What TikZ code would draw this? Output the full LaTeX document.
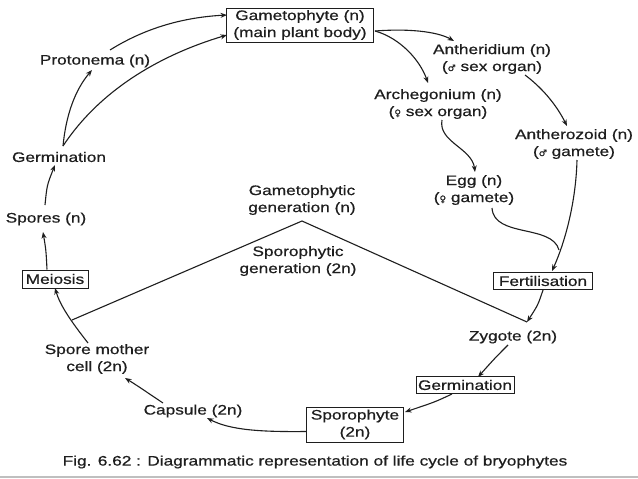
\documentclass[tikz,border=0pt]{standalone}
\usepackage{fontspec}
\setmainfont[FakeStretch=1.25,FakeBold=0.6]{Liberation Sans}
\newfontfamily\symf[FakeBold=0.6]{DejaVu Sans}
\usetikzlibrary{arrows.meta}
\definecolor{ink}{HTML}{1E1E1E}
\tikzset{
  txt/.style={align=center,inner sep=1pt,text=ink,font=\fontsize{13.8}{17}\selectfont},
  boxed/.style={txt,draw=ink,line width=1pt,inner sep=2pt},
  arr/.style={draw=ink,line width=1.1pt,-{Stealth[length=6.5pt,width=5pt]}},
  ln/.style={draw=ink,line width=1.1pt}
}
\newcommand{\ms}{{\symf\fontsize{9}{9}\selectfont ♂}}
\newcommand{\fs}{{\symf\fontsize{9}{9}\selectfont ♀}}
\begin{document}
\begin{tikzpicture}[x=1pt,y=-1pt]
\useasboundingbox (0,0) rectangle (638,479);
\fill[white] (0,0) rectangle (638,479);
\draw[black!25,line width=1.5pt] (0,477) -- (638,477);
% nodes
\node[boxed,minimum width=147pt,minimum height=34pt] (gam) at (300,25) {Gametophyte (n)\\(main plant body)};
\node[txt] (anth) at (492,59) {Antheridium (n)\\(\ms{} sex organ)};
\node[txt] (arch) at (438,104) {Archegonium (n)\\(\fs{} sex organ)};
\node[txt] (antz) at (574,144) {Antherozoid (n)\\(\ms{} gamete)};
\node[txt] (egg) at (474,190) {Egg (n)\\(\fs{} gamete)};
\node[boxed,minimum width=99pt,minimum height=17pt] (fert) at (543,281) {Fertilisation};
\node[txt] (zyg) at (513,337) {Zygote (2n)};
\node[boxed,minimum width=98pt,minimum height=17pt] (germR) at (465,385) {Germination};
\node[boxed,minimum width=97pt,minimum height=35pt] (spor) at (355,424.5) {Sporophyte\\(2n)};
\node[txt] (caps) at (193,411) {Capsule (2n)};
\node[txt] (smc) at (97,359) {Spore mother\\cell (2n)};
\node[boxed,minimum width=66pt,minimum height=18pt] (meio) at (55,279) {Meiosis};
\node[txt] (spores) at (46,219) {Spores (n)};
\node[txt] (germL) at (59,157) {Germination};
\node[txt] (proto) at (95,61) {Protonema (n)};
\node[txt] (gen1) at (302,200) {Gametophytic\\generation (n)};
\node[txt] (gen2) at (298,261) {Sporophytic\\generation (2n)};
\node[txt] (cap) at (315,462) {Fig. 6.62 : Diagrammatic representation of life cycle of bryophytes};
% connector end points
\coordinate (gamE) at (375,31);
\coordinate (anthIn) at (454,41);
\coordinate (archIn) at (428,83);
\coordinate (anthOut) at (525,75);
\coordinate (antzIn) at (567,126);
\coordinate (archOut) at (442,120);
\coordinate (eggIn) at (475,172);
\coordinate (antzOut) at (577,160);
\coordinate (fertIn) at (552,271);
\coordinate (eggOut) at (492,208);
\coordinate (merge) at (559,250);
\coordinate (zygIn) at (527,322);
\coordinate (zygOut) at (508,345);
\coordinate (germRIn) at (478,377);
\coordinate (sporIn) at (405,412);
\coordinate (capsIn) at (207,418);
\coordinate (capsOut) at (163,403);
\coordinate (smcIn) at (125,378);
\coordinate (smcOut) at (88,343);
\coordinate (meioIn) at (55,288);
\coordinate (spIn) at (43,232);
\coordinate (spOut) at (45,205);
\coordinate (gLIn) at (55,165);
\coordinate (gLOut) at (63,146);
\coordinate (protoIn) at (92,70);
\coordinate (gamIn1) at (227,35);
\coordinate (protoOut) at (110,50);
\coordinate (gamIn2) at (227,15);
\coordinate (apex) at (302,221);
\coordinate (leftEnd) at (72,320);
% connectors
\draw[arr] (gamE) .. controls (415,28) and (440,33) .. (anthIn);
\draw[arr] (gamE) .. controls (400,38) and (420,60) .. (archIn);
\draw[arr] (anthOut) .. controls (545,90) and (558,108) .. (antzIn);
\draw[arr] (archOut) .. controls (438,142) and (472,148) .. (eggIn);
\draw[arr] (antzOut) .. controls (576,200) and (566,240) .. (fertIn);
\draw[ln] (eggOut) .. controls (494,238) and (552,224) .. (merge);
\draw[arr] (fert.south) .. controls (538,305) .. (zygIn);
\draw[arr] (zygOut) .. controls (495,358) .. (germRIn);
\draw[arr] ([xshift=-13pt]germR.south) .. controls (435,402) .. (sporIn);
\draw[arr] ([yshift=-7pt]spor.west) .. controls (260,432) and (230,430) .. (capsIn);
\draw[arr] (capsOut) .. controls (148,393) and (138,386) .. (smcIn);
\draw[arr] (smcOut) .. controls (70,320) and (60,305) .. (meioIn);
\draw[arr] ([xshift=-8pt]meio.north) .. controls (46,250) .. (spIn);
\draw[arr] (spOut) .. controls (47,185) .. (gLIn);
\draw[arr] (gLOut) .. controls (66,115) and (75,90) .. (protoIn);
\draw[arr] (gLOut) .. controls (100,90) and (160,55) .. (gamIn1);
\draw[arr] (protoOut) .. controls (150,25) and (190,17) .. (gamIn2);
\draw[ln] (leftEnd) -- (apex) -- (zygIn);
\end{tikzpicture}
\end{document}
